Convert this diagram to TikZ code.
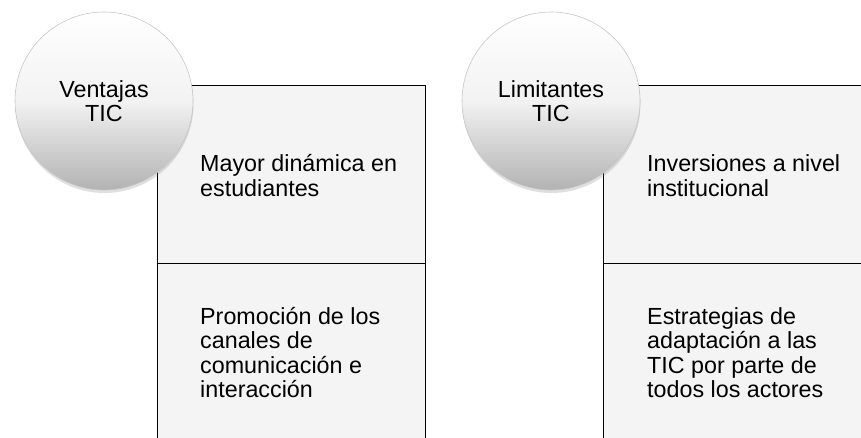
\documentclass[tikz,border=0pt]{standalone}
\usepackage{fontspec}
\setmainfont{Liberation Sans}
\usetikzlibrary{shadows}
\definecolor{cellgray}{HTML}{F4F4F4}
\newcommand{\firstline}{\rule{0pt}{20pt}}
\begin{document}
\begin{tikzpicture}[x=1pt,y=-1pt,
  cell/.style={draw=black, line width=1.3pt, fill=cellgray, minimum width=268pt,
    minimum height=178pt, anchor=north west, inner sep=0pt},
  ball/.style={circle, minimum size=178pt, inner sep=0pt, draw=gray!45, line width=0.6pt,
    top color=white, bottom color=gray!60, middle color=white!95!black,
    drop shadow={shadow xshift=0.5pt, shadow yshift=-3pt, opacity=0.25},
    align=center, font=\fontsize{23.3}{24.5}\selectfont},
  txt/.style={anchor=north west, align=left, inner sep=0pt, font=\fontsize{23.3}{24.5}\selectfont}]
\useasboundingbox (0,0) rectangle (861,438);
\clip (0,0) rectangle (861,438);
% left group
\node[cell] (v1) at (157,85) {};
\node[cell] (v2) at (157,263) {};
\node[txt] (tv1) at (200,151.5) {\firstline Mayor dinámica en\\estudiantes};
\node[txt] (tv2) at (200,304) {\firstline Promoción de los\\canales de\\comunicación e\\interacción};
% right group
\node[cell] (l1) at (603,85) {};
\node[cell] (l2) at (603,263) {};
\node[txt] (tl1) at (647,151.5) {\firstline Inversiones a nivel\\institucional};
\node[txt] (tl2) at (647,304) {\firstline Estrategias de\\adaptación a las\\TIC por parte de\\todos los actores};
% circles
\node[ball] (c1) at (104,101) {Ventajas\\TIC};
\node[ball] (c2) at (551,101) {Limitantes\\TIC};
\end{tikzpicture}
\end{document}
